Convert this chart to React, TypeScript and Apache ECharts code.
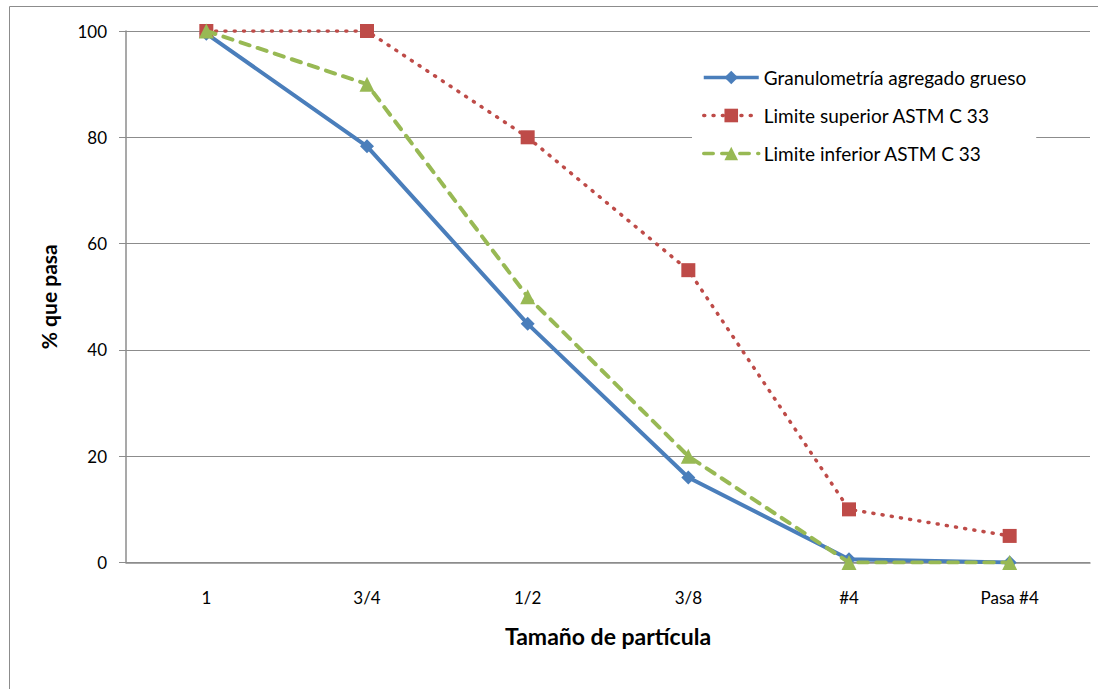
import React, { useEffect, useRef } from "react";
import * as echarts from "echarts";

const categories = ["1", "3/4", "1/2", "3/8", "#4", "Pasa #4"];
const granulometria = [99.5, 78.3, 44.9, 16.0, 0.6, 0];
const limiteSuperior = [100, 100, 80, 55, 10, 5];
const limiteInferior = [100, 90, 50, 20, 0, 0];
const yTicks = [0, 20, 40, 60, 80, 100];

const FONT = "Lato, 'Open Sans', sans-serif";

export default function App() {
  const ref = useRef<HTMLDivElement>(null);
  useEffect(() => {
    if (!ref.current) return;
    const chart = echarts.init(ref.current, undefined, { renderer: "svg" });
    chart.setOption({
      animation: false,
      backgroundColor: "#ffffff",
      textStyle: { fontFamily: FONT },
      grid: { left: 126, right: 8, top: 31, bottom: 126.5, containLabel: false },
      graphic: [
        {
          type: "rect",
          shape: { x: 9.5, y: 6.5, width: 1200, height: 1000 },
          style: { fill: "none", stroke: "#8c8c8c", lineWidth: 1 },
          z: 0,
        },
      ],
      legend: {
        left: 692,
        top: 62,
        orient: "vertical",
        backgroundColor: "#ffffff",
        padding: [6, 10, 6, 10],
        itemWidth: 55,
        itemHeight: 17,
        itemGap: 19,
        lineStyle: { width: 3.5 },
        textStyle: { fontSize: 19, color: "#000", fontFamily: FONT },
        data: [
          "Granulometría agregado grueso",
          "Limite superior ASTM C 33",
          "Limite inferior ASTM C 33",
        ],
        z: 10,
      },
      xAxis: {
        type: "category",
        data: categories,
        boundaryGap: true,
        axisLine: { lineStyle: { color: "#8c8c8c", width: 1.5 } },
        axisTick: { show: false },
        axisLabel: { color: "#000", fontSize: 17, margin: 26, fontFamily: FONT },
        name: "Tamaño de partícula",
        nameLocation: "middle",
        nameGap: 62,
        nameTextStyle: { fontSize: 23, fontWeight: "bold", color: "#000", fontFamily: FONT },
      },
      yAxis: {
        type: "value",
        min: yTicks[0],
        max: yTicks[yTicks.length - 1],
        interval: 20,
        axisLine: { show: true, lineStyle: { color: "#8c8c8c", width: 1.5 } },
        axisTick: { show: true, length: 7, lineStyle: { color: "#8c8c8c" } },
        axisLabel: { color: "#000", fontSize: 17, margin: 19, fontFamily: FONT },
        splitLine: { show: true, lineStyle: { color: "#8c8c8c", width: 1.2 } },
        name: "% que pasa",
        nameLocation: "middle",
        nameGap: 67,
        nameTextStyle: { fontSize: 21, fontWeight: "bold", color: "#000", fontFamily: FONT },
      },
      series: [
        {
          name: "Granulometría agregado grueso",
          type: "line",
          data: granulometria,
          symbol: "diamond",
          symbolSize: 14,
          itemStyle: { color: "#4A7EBB" },
          lineStyle: { color: "#4A7EBB", width: 4 },
          z: 3,
        },
        {
          name: "Limite superior ASTM C 33",
          type: "line",
          data: limiteSuperior,
          symbol: "rect",
          symbolSize: 14,
          itemStyle: { color: "#BE4B48" },
          lineStyle: { color: "#BE4B48", width: 3.5, type: [1, 8.3], cap: "round" },
          z: 4,
        },
        {
          name: "Limite inferior ASTM C 33",
          type: "line",
          data: limiteInferior,
          symbol: "triangle",
          symbolSize: 15,
          itemStyle: { color: "#98B954" },
          lineStyle: { color: "#98B954", width: 4, type: [9.5, 8.5], cap: "round" },
          z: 5,
        },
      ],
    });
    return () => chart.dispose();
  }, []);
  return (
    <div
      ref={ref}
      style={{ position: "fixed", left: 0, top: 0, width: 1098, height: 689 }}
    />
  );
}
